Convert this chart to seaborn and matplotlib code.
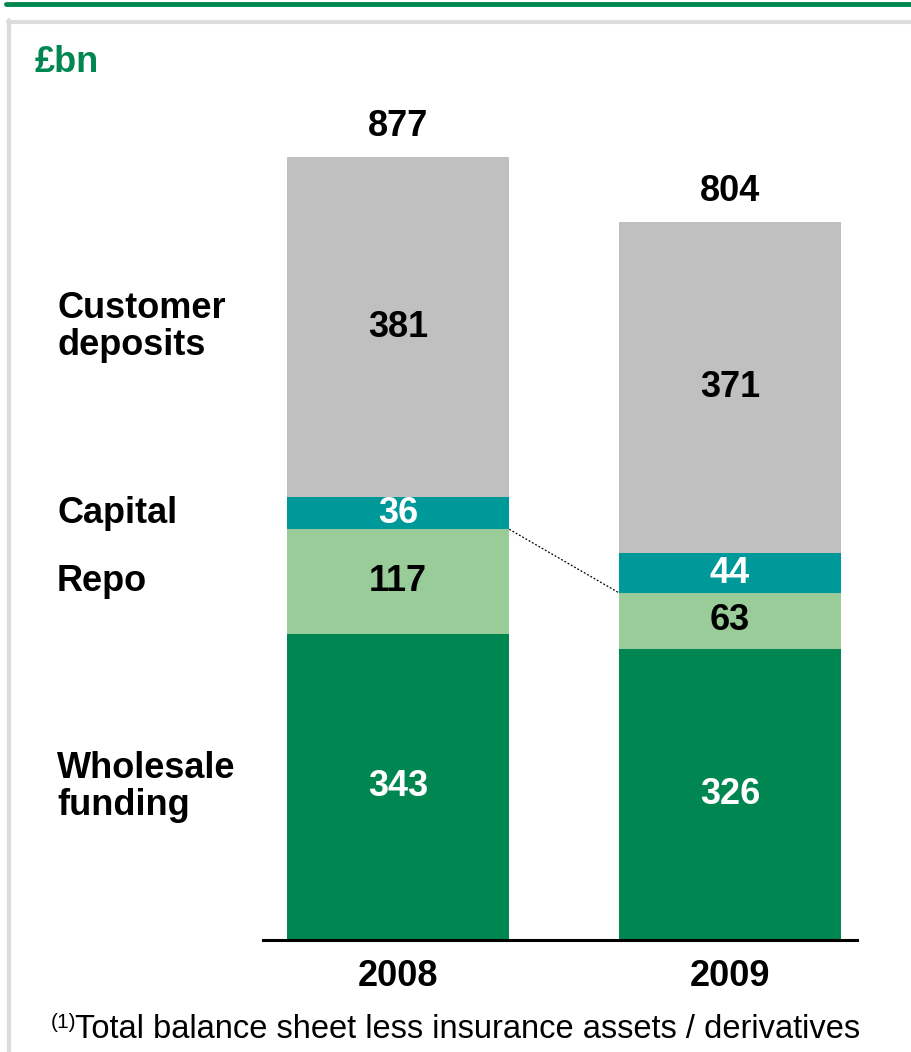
import numpy as np
import pandas as pd
import matplotlib.pyplot as plt
import matplotlib.transforms as mtransforms
from matplotlib.lines import Line2D
import seaborn as sns

years = ["2008", "2009"]
segments = ["Wholesale\nfunding", "Repo", "Capital", "Customer\ndeposits"]
wholesale = [343, 326]
repo = [117, 63]
capital = [36, 44]
customer = [381, 371]
totals = [877, 804]

colors = ["#008751", "#99cc99", "#009999", "#c0c0c0"]
label_colors = ["white", "black", "white", "black"]

sns.set_style("white")
plt.rcParams["font.family"] = ["Liberation Sans", "DejaVu Sans"]
plt.rcParams["text.color"] = "black"
plt.rcParams["xtick.color"] = "black"

values = np.array([wholesale, repo, capital, customer])
tops = values.cumsum(axis=0)
bottoms = tops - values

fig = plt.figure(figsize=(9.11, 10.52), dpi=100)
ax = fig.add_axes([263 / 911, 1 - 940 / 1052, (857 - 263) / 911, 900 / 1052])

# stacked bars: draw cumulative heights, tallest first
for i in range(len(segments) - 1, -1, -1):
    df = pd.DataFrame({"year": years, "value": tops[i]})
    sns.barplot(data=df, x="year", y="value", color=colors[i], width=0.67,
                saturation=1, linewidth=0, ax=ax)

ax.set_xlim(-0.407, 1.383)
ax.set_ylim(0, 1008)

for i in range(len(segments)):
    for j in range(len(years)):
        ax.text(j, bottoms[i][j] + values[i][j] / 2, str(values[i][j]),
                ha="center", va="center", fontsize=26, fontweight="bold",
                color=label_colors[i])

for j, t in enumerate(totals):
    ax.annotate(str(t), (j, t), xytext=(0, 22), textcoords="offset points",
                ha="center", va="center", fontsize=26, fontweight="bold",
                color="black")

# segment names beside the 2008 bar
trans = mtransforms.blended_transform_factory(fig.transFigure, ax.transData)
for i, name in enumerate(segments):
    ax.text(57 / 911, bottoms[i][0] + values[i][0] / 2, name, transform=trans,
            ha="left", va="center", fontsize=26, fontweight="bold",
            linespacing=1.08, color="black")

# dotted connector repo top 2008 -> capital bottom 2009
ax.plot([0.335, 0.665], [tops[1][0], bottoms[2][1]], color="black",
        linestyle=(0, (1.5, 1.5)), linewidth=0.9)

sns.despine(ax=ax, left=True, top=True, right=True)
ax.spines["bottom"].set_linewidth(2.2)
ax.spines["bottom"].set_color("black")
ax.set_yticks([])
ax.set_xlabel("")
ax.set_ylabel("")
ax.tick_params(axis="x", length=0, pad=14, colors="black")
for lab in ax.get_xticklabels():
    lab.set_fontsize(26)
    lab.set_fontweight("bold")
    lab.set_color("black")

fig.text(35 / 911, 1 - 62 / 1052, "£bn", color="#008751", fontsize=26,
         fontweight="bold", ha="left", va="center")

fig.text(51 / 911, 1 - 1022 / 1052, "(1)", fontsize=15, ha="left",
         va="center", color="black")
fig.text(75 / 911, 1 - 1030 / 1052,
         "Total balance sheet less insurance assets / derivatives",
         fontsize=23.5, ha="left", va="center", color="black")

# frame lines
fig.add_artist(Line2D([6 / 911, 1], [1 - 4 / 1052, 1 - 4 / 1052],
                      color="#008751", linewidth=3.5))
fig.add_artist(Line2D([8 / 911, 1], [1 - 21.5 / 1052, 1 - 21.5 / 1052],
                      color="#dcdcdc", linewidth=3))
fig.add_artist(Line2D([8.5 / 911, 8.5 / 911], [0, 1 - 20 / 1052],
                      color="#dcdcdc", linewidth=3))

fig.savefig("out.png", dpi=100)
